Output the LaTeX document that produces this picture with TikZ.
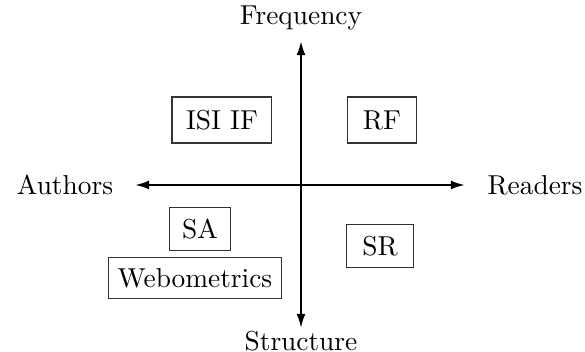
\documentclass[tikz,border=0pt]{standalone}
\usepackage{tikz}
\usetikzlibrary{positioning,arrows.meta}

\begin{document}
\begin{tikzpicture}[x=0.1284cm,y=0.1284cm]
\tikzset{qbox/.style={draw=black!80,line width=0.4pt,inner sep=0pt,font=\normalsize}}
\useasboundingbox (-30.1,-16.7) rectangle (28.4,18.5);
% axis tips
\coordinate (n) at (0,14.4);
\coordinate (s) at (0,-14.3);
\coordinate (w) at (-16.6,0);
\coordinate (e) at (16.4,0);
\draw[line width=0.75pt,{Latex[length=5.2pt,width=3.3pt]}-{Latex[length=5.2pt,width=3.3pt]}] (w) -- (e);
\draw[line width=0.75pt,{Latex[length=5.2pt,width=3.3pt]}-{Latex[length=5.2pt,width=3.3pt]}] (s) -- (n);
% axis labels
\node (freq) at (0,16.7) {Frequency};
\node (struct) at (0,-15.6) {Structure};
\node (auth) at (-23.6,0) {Authors};
\node (read) at (23.4,0) {Readers};
% quadrants
\node[qbox,minimum width=36.5pt,minimum height=16.8pt] (isi) at (-7.9,6.5) {ISI IF};
\node[qbox,minimum width=25.2pt,minimum height=16.8pt] (rf) at (8.1,6.5) {RF};
\node[qbox,minimum width=22.3pt,minimum height=15.7pt] (sa) at (-10.1,-4.4) {SA};
\node[qbox,minimum width=63.5pt,minimum height=15.3pt] (webo) at (-10.6,-9.3) {Webometrics};
\node[qbox,minimum width=24.5pt,minimum height=15.7pt] (sr) at (7.9,-6.1) {SR};
\end{tikzpicture}
\end{document}
